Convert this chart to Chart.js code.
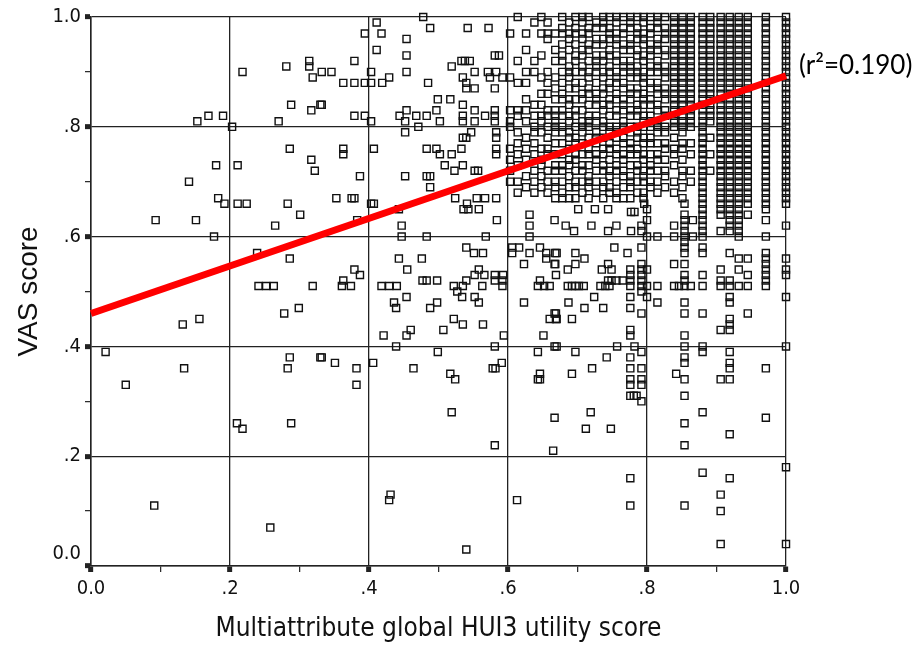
<!DOCTYPE html>
<html>
<head>
<meta charset="utf-8">
<script src="https://cdn.jsdelivr.net/npm/chart.js@4.4.1/dist/chart.umd.min.js"></script>
<style>
  html, body { margin: 0; padding: 0; background: #fff; }
  #wrap { width: 922px; height: 645px; }
</style>
</head>
<body>
<div id="wrap"><canvas id="myChart"></canvas></div>
<script>
// scattered respondents: [HUI3 utility, VAS score]
const sparsePoints = [
  [0.218, 0.90], [0.281, 0.91], [0.314, 0.92], [0.314, 0.91], [0.332, 0.90], [0.319, 0.89],
  [0.288, 0.84], [0.317, 0.83], [0.330, 0.84], [0.153, 0.81], [0.169, 0.82], [0.190, 0.82],
  [0.203, 0.80], [0.270, 0.81], [0.286, 0.76], [0.317, 0.74], [0.322, 0.72], [0.180, 0.73],
  [0.211, 0.73], [0.141, 0.70], [0.183, 0.67], [0.192, 0.66], [0.211, 0.66], [0.224, 0.66],
  [0.283, 0.66], [0.301, 0.64], [0.093, 0.63], [0.151, 0.63], [0.265, 0.62], [0.177, 0.60],
  [0.239, 0.57], [0.286, 0.56], [0.241, 0.51], [0.252, 0.51], [0.263, 0.51], [0.319, 0.51],
  [0.278, 0.46], [0.299, 0.47], [0.132, 0.44], [0.156, 0.45], [0.021, 0.39], [0.286, 0.38],
  [0.330, 0.38], [0.283, 0.36], [0.134, 0.36], [0.050, 0.33], [0.210, 0.26], [0.218, 0.25],
  [0.288, 0.26], [0.091, 0.11], [0.258, 0.07],
  [0.478, 1.00], [0.411, 0.99], [0.488, 0.98], [0.542, 0.98], [0.572, 0.98], [0.394, 0.97],
  [0.418, 0.97], [0.454, 0.96], [0.411, 0.94], [0.454, 0.93], [0.379, 0.92], [0.346, 0.90],
  [0.403, 0.90], [0.454, 0.90], [0.519, 0.91], [0.533, 0.92], [0.538, 0.92], [0.545, 0.92],
  [0.581, 0.93], [0.587, 0.93], [0.552, 0.90], [0.571, 0.90], [0.583, 0.90], [0.429, 0.89],
  [0.363, 0.88], [0.379, 0.88], [0.394, 0.88], [0.403, 0.88], [0.419, 0.88], [0.485, 0.88],
  [0.535, 0.89], [0.540, 0.88], [0.540, 0.87], [0.552, 0.87], [0.574, 0.89], [0.581, 0.87],
  [0.592, 0.89], [0.499, 0.85], [0.517, 0.85], [0.332, 0.84], [0.535, 0.84], [0.379, 0.82],
  [0.394, 0.82], [0.454, 0.83], [0.444, 0.82], [0.468, 0.82], [0.483, 0.82], [0.497, 0.83],
  [0.502, 0.81], [0.403, 0.81], [0.452, 0.81], [0.471, 0.80], [0.452, 0.79], [0.535, 0.82],
  [0.535, 0.81], [0.552, 0.83], [0.567, 0.82], [0.552, 0.81], [0.581, 0.83], [0.581, 0.82],
  [0.581, 0.81], [0.535, 0.78], [0.540, 0.78], [0.547, 0.79], [0.583, 0.79], [0.583, 0.78],
  [0.363, 0.76], [0.363, 0.75], [0.407, 0.76], [0.483, 0.76], [0.497, 0.76], [0.502, 0.75],
  [0.519, 0.75], [0.533, 0.76], [0.583, 0.76], [0.583, 0.75], [0.509, 0.73], [0.523, 0.72],
  [0.535, 0.73], [0.552, 0.72], [0.557, 0.72], [0.387, 0.71], [0.452, 0.71], [0.483, 0.71],
  [0.488, 0.71], [0.488, 0.69],
  [0.353, 0.67], [0.375, 0.67], [0.379, 0.67], [0.403, 0.66], [0.407, 0.66], [0.443, 0.65],
  [0.383, 0.63], [0.447, 0.62], [0.447, 0.60], [0.483, 0.60], [0.524, 0.67], [0.541, 0.66],
  [0.555, 0.67], [0.567, 0.67], [0.583, 0.67], [0.536, 0.65], [0.543, 0.65], [0.558, 0.65],
  [0.584, 0.63], [0.568, 0.60], [0.540, 0.58], [0.551, 0.57], [0.564, 0.57], [0.443, 0.56],
  [0.476, 0.56], [0.455, 0.54], [0.379, 0.54], [0.387, 0.53], [0.363, 0.52], [0.361, 0.51],
  [0.374, 0.51], [0.418, 0.51], [0.429, 0.51], [0.440, 0.51], [0.477, 0.52], [0.483, 0.52],
  [0.498, 0.52], [0.522, 0.51], [0.527, 0.50], [0.535, 0.51], [0.540, 0.52], [0.558, 0.54],
  [0.552, 0.53], [0.566, 0.53], [0.563, 0.51], [0.581, 0.53], [0.593, 0.53], [0.581, 0.52],
  [0.592, 0.52], [0.592, 0.51], [0.534, 0.49], [0.552, 0.49], [0.558, 0.48], [0.454, 0.49],
  [0.436, 0.48], [0.439, 0.47], [0.498, 0.48], [0.488, 0.47], [0.522, 0.45], [0.535, 0.44],
  [0.564, 0.44], [0.507, 0.43], [0.421, 0.42], [0.454, 0.42], [0.460, 0.43], [0.439, 0.40],
  [0.499, 0.39], [0.594, 0.42], [0.581, 0.40], [0.332, 0.38], [0.351, 0.37], [0.382, 0.36],
  [0.406, 0.37], [0.464, 0.36], [0.517, 0.35], [0.524, 0.34], [0.578, 0.36], [0.582, 0.36],
  [0.591, 0.37], [0.382, 0.33],
  [0.519, 0.28], [0.581, 0.22], [0.643, 0.34], [0.667, 0.27], [0.665, 0.21], [0.431, 0.13],
  [0.429, 0.12], [0.613, 0.12], [0.540, 0.03],
  [0.606, 0.58], [0.616, 0.58], [0.606, 0.57], [0.631, 0.64], [0.631, 0.62], [0.631, 0.60],
  [0.667, 0.63], [0.631, 0.57], [0.646, 0.58], [0.655, 0.57], [0.668, 0.57], [0.655, 0.56],
  [0.668, 0.55], [0.623, 0.55], [0.646, 0.52], [0.643, 0.51], [0.660, 0.51], [0.652, 0.51],
  [0.623, 0.48], [0.667, 0.46], [0.660, 0.45], [0.669, 0.45], [0.651, 0.42], [0.667, 0.40],
  [0.643, 0.39], [0.646, 0.35], [0.646, 0.34],
  [0.776, 0.33], [0.792, 0.33], [0.776, 0.31], [0.781, 0.31], [0.785, 0.31], [0.792, 0.30],
  [0.854, 0.31], [0.719, 0.28], [0.712, 0.25], [0.748, 0.25], [0.880, 0.28], [0.854, 0.26],
  [0.971, 0.27], [0.919, 0.24], [0.854, 0.22], [1.000, 0.18], [0.880, 0.17], [0.919, 0.16],
  [0.776, 0.16], [0.906, 0.13], [0.776, 0.11], [0.854, 0.11], [0.906, 0.10], [0.906, 0.04],
  [1.000, 0.04],
  [0.701, 0.65], [0.725, 0.65], [0.744, 0.65], [0.777, 0.645], [0.782, 0.645], [0.796, 0.66],
  [0.800, 0.65], [0.800, 0.63], [0.854, 0.66], [0.854, 0.64], [0.854, 0.63], [0.854, 0.62],
  [0.854, 0.61], [0.880, 0.66], [0.880, 0.65], [0.880, 0.64], [0.880, 0.63], [0.880, 0.62],
  [0.880, 0.61], [0.906, 0.66], [0.906, 0.65], [0.906, 0.64], [0.919, 0.66], [0.919, 0.65],
  [0.919, 0.64], [0.919, 0.63], [0.919, 0.62], [0.919, 0.61], [0.932, 0.66], [0.932, 0.65],
  [0.932, 0.64], [0.932, 0.63], [0.932, 0.62], [0.932, 0.61], [0.945, 0.66], [0.945, 0.64],
  [0.971, 0.66], [0.971, 0.65], [0.971, 0.63], [1.000, 0.66], [1.000, 0.62], [0.839, 0.62],
  [0.866, 0.63], [0.906, 0.61], [0.683, 0.62], [0.695, 0.61], [0.720, 0.62], [0.744, 0.61],
  [0.756, 0.62], [0.777, 0.61], [0.792, 0.62], [0.792, 0.61], [0.800, 0.60], [0.815, 0.60],
  [0.839, 0.60], [0.854, 0.60], [0.866, 0.60], [0.880, 0.60], [0.932, 0.60], [0.971, 0.60],
  [0.753, 0.58], [0.772, 0.57], [0.792, 0.58], [0.670, 0.57], [0.697, 0.57], [0.710, 0.56],
  [0.854, 0.59], [0.854, 0.58], [0.854, 0.57], [0.880, 0.58], [0.880, 0.57], [0.919, 0.57],
  [0.932, 0.56], [0.945, 0.56], [0.971, 0.57], [0.971, 0.56], [0.971, 0.55], [0.971, 0.54],
  [0.971, 0.53], [0.971, 0.52], [0.971, 0.51], [1.000, 0.56], [1.000, 0.54], [1.000, 0.53],
  [0.667, 0.55], [0.686, 0.54], [0.697, 0.55], [0.669, 0.53], [0.735, 0.54], [0.744, 0.55],
  [0.749, 0.54], [0.744, 0.52], [0.749, 0.52], [0.756, 0.52], [0.765, 0.52], [0.776, 0.54],
  [0.776, 0.53], [0.776, 0.52], [0.792, 0.55], [0.792, 0.54], [0.792, 0.53], [0.792, 0.52],
  [0.800, 0.54], [0.839, 0.55], [0.854, 0.55], [0.854, 0.53], [0.854, 0.52], [0.880, 0.53],
  [0.906, 0.54], [0.906, 0.52], [0.932, 0.54], [0.945, 0.53], [0.919, 0.52],
  [0.686, 0.51], [0.692, 0.51], [0.697, 0.51], [0.702, 0.51], [0.709, 0.51], [0.733, 0.51],
  [0.740, 0.51], [0.746, 0.51], [0.776, 0.51], [0.792, 0.51], [0.800, 0.51], [0.815, 0.51],
  [0.839, 0.51], [0.846, 0.51], [0.854, 0.51], [0.863, 0.51], [0.880, 0.51], [0.906, 0.51],
  [0.919, 0.51], [0.932, 0.51], [0.945, 0.51],
  [0.724, 0.49], [0.776, 0.49], [0.792, 0.50], [0.800, 0.49], [1.000, 0.49], [0.687, 0.48],
  [0.710, 0.47], [0.737, 0.47], [0.776, 0.47], [0.815, 0.48], [0.854, 0.48], [0.919, 0.49],
  [0.919, 0.48], [0.792, 0.46], [0.854, 0.46], [0.880, 0.46], [0.945, 0.46], [0.669, 0.46],
  [0.670, 0.45], [0.692, 0.45], [0.776, 0.43], [0.776, 0.42], [0.906, 0.43], [0.919, 0.45],
  [0.919, 0.44], [0.919, 0.43], [0.854, 0.42], [0.670, 0.40], [0.697, 0.39], [0.757, 0.40],
  [0.782, 0.40], [0.792, 0.39], [0.854, 0.40], [0.880, 0.40], [0.880, 0.39], [0.919, 0.39],
  [1.000, 0.40], [0.742, 0.38], [0.721, 0.36], [0.692, 0.35], [0.776, 0.38], [0.776, 0.36],
  [0.792, 0.36], [0.854, 0.38], [0.854, 0.37], [0.919, 0.37], [0.919, 0.36], [0.971, 0.36],
  [0.842, 0.35], [0.854, 0.34], [0.906, 0.34], [0.919, 0.34], [0.776, 0.34], [0.792, 0.34]
];

// dense upper-right block: HUI3 value of each stacked column and its VAS scores
const columnHui3 = [
  0.603, 0.614, 0.626, 0.638, 0.648, 0.657, 0.668, 0.678, 0.688, 0.697, 0.707, 0.716,
  0.727, 0.737, 0.746, 0.756, 0.766, 0.776, 0.786, 0.795, 0.805, 0.815, 0.826, 0.839,
  0.851, 0.863, 0.880, 0.891, 0.906, 0.919, 0.932, 0.945, 0.971, 1.000
];
const columnVas = [
  [0.97, 0.89, 0.83, 0.81, 0.80, 0.76, 0.74, 0.72, 0.70],
  [1.00, 0.92, 0.88, 0.83, 0.82, 0.79, 0.77, 0.75, 0.73, 0.70, 0.68],
  [0.97, 0.94, 0.90, 0.88, 0.85, 0.83, 0.81, 0.78, 0.76, 0.74, 0.71, 0.69],
  [0.99, 0.92, 0.90, 0.84, 0.82, 0.80, 0.79, 0.77, 0.75, 0.72, 0.70, 0.68],
  [1.00, 0.97, 0.93, 0.89, 0.86, 0.84, 0.82, 0.81, 0.79, 0.76, 0.74, 0.73, 0.71, 0.69],
  [0.99, 0.97, 0.96, 0.90, 0.88, 0.86, 0.83, 0.82, 0.80, 0.78, 0.76, 0.75, 0.72, 0.70, 0.68],
  [0.97, 0.94, 0.92, 0.89, 0.87, 0.85, 0.83, 0.82, 0.81, 0.80, 0.79, 0.77, 0.75, 0.73, 0.72, 0.70, 0.69, 0.67],
  [1.00, 0.98, 0.97, 0.95, 0.93, 0.92, 0.90, 0.88, 0.86, 0.85, 0.83, 0.82, 0.80, 0.79, 0.77, 0.75, 0.73, 0.72, 0.70, 0.68, 0.67],
  [0.99, 0.97, 0.96, 0.94, 0.91, 0.90, 0.89, 0.87, 0.85, 0.84, 0.82, 0.81, 0.79, 0.78, 0.76, 0.74, 0.73, 0.71, 0.69, 0.67],
  [1.00, 0.98, 0.97, 0.95, 0.93, 0.92, 0.90, 0.88, 0.87, 0.85, 0.83, 0.82, 0.80, 0.78, 0.77, 0.75, 0.74, 0.72, 0.70, 0.69, 0.67],
  [1.00, 0.99, 0.97, 0.96, 0.94, 0.93, 0.91, 0.90, 0.88, 0.86, 0.85, 0.83, 0.81, 0.80, 0.79, 0.77, 0.75, 0.73, 0.72, 0.70, 0.68],
  [1.00, 0.98, 0.97, 0.95, 0.94, 0.92, 0.90, 0.89, 0.87, 0.86, 0.84, 0.82, 0.81, 0.80, 0.78, 0.76, 0.75, 0.73, 0.71, 0.70, 0.69, 0.67],
  [0.99, 0.98, 0.96, 0.95, 0.93, 0.92, 0.91, 0.90, 0.88, 0.86, 0.85, 0.84, 0.82, 0.81, 0.79, 0.78, 0.77, 0.75, 0.74, 0.72, 0.70, 0.68],
  [1.00, 0.99, 0.98, 0.96, 0.95, 0.93, 0.92, 0.90, 0.89, 0.87, 0.86, 0.84, 0.83, 0.81, 0.80, 0.78, 0.76, 0.75, 0.73, 0.72, 0.70, 0.69, 0.67],
  [1.00, 0.98, 0.97, 0.96, 0.94, 0.93, 0.91, 0.90, 0.88, 0.87, 0.85, 0.84, 0.82, 0.80, 0.79, 0.77, 0.76, 0.74, 0.72, 0.71, 0.69, 0.68],
  [1.00, 0.99, 0.97, 0.96, 0.95, 0.93, 0.92, 0.90, 0.89, 0.88, 0.86, 0.85, 0.83, 0.82, 0.80, 0.79, 0.78, 0.76, 0.75, 0.73, 0.72, 0.70, 0.68, 0.67],
  [1.00, 0.98, 0.97, 0.95, 0.94, 0.92, 0.91, 0.90, 0.88, 0.87, 0.85, 0.84, 0.83, 0.81, 0.80, 0.78, 0.77, 0.75, 0.74, 0.72, 0.71, 0.69, 0.67],
  [1.00, 0.99, 0.98, 0.96, 0.95, 0.94, 0.92, 0.91, 0.90, 0.89, 0.87, 0.86, 0.85, 0.83, 0.82, 0.80, 0.79, 0.77, 0.76, 0.75, 0.73, 0.71, 0.70, 0.69, 0.67],
  [1.00, 0.98, 0.97, 0.96, 0.94, 0.93, 0.91, 0.90, 0.89, 0.87, 0.86, 0.84, 0.83, 0.82, 0.80, 0.79, 0.78, 0.76, 0.75, 0.73, 0.72, 0.70, 0.68],
  [1.00, 0.99, 0.97, 0.96, 0.95, 0.93, 0.92, 0.90, 0.89, 0.88, 0.86, 0.85, 0.84, 0.82, 0.81, 0.80, 0.78, 0.77, 0.75, 0.74, 0.72, 0.71, 0.70, 0.68, 0.67],
  [1.00, 0.98, 0.97, 0.95, 0.94, 0.93, 0.91, 0.90, 0.88, 0.87, 0.85, 0.84, 0.82, 0.81, 0.80, 0.78, 0.77, 0.75, 0.73, 0.72, 0.70, 0.69],
  [1.00, 0.99, 0.98, 0.96, 0.95, 0.94, 0.92, 0.91, 0.90, 0.88, 0.87, 0.86, 0.84, 0.83, 0.81, 0.80, 0.79, 0.77, 0.75, 0.74, 0.72, 0.70, 0.68],
  [1.00, 0.98, 0.97, 0.96, 0.94, 0.93, 0.91, 0.90, 0.89, 0.87, 0.86, 0.85, 0.83, 0.82, 0.80, 0.79, 0.77, 0.76, 0.74, 0.72, 0.71, 0.69],
  [1.00, 0.99, 0.98, 0.97, 0.96, 0.95, 0.94, 0.93, 0.92, 0.91, 0.90, 0.89, 0.88, 0.87, 0.86, 0.85, 0.84, 0.83, 0.82, 0.81, 0.80, 0.78, 0.76, 0.75, 0.73, 0.70, 0.68],
  [1.00, 0.99, 0.98, 0.97, 0.96, 0.95, 0.94, 0.93, 0.92, 0.91, 0.90, 0.89, 0.88, 0.87, 0.86, 0.85, 0.84, 0.83, 0.82, 0.81, 0.80, 0.79, 0.77, 0.76, 0.74, 0.72, 0.71, 0.69, 0.67],
  [1.00, 0.99, 0.98, 0.97, 0.96, 0.95, 0.94, 0.93, 0.92, 0.91, 0.90, 0.89, 0.88, 0.87, 0.86, 0.85, 0.84, 0.83, 0.82, 0.81, 0.80, 0.77, 0.75, 0.72, 0.70],
  [1.00, 0.99, 0.98, 0.97, 0.96, 0.95, 0.94, 0.93, 0.92, 0.91, 0.90, 0.89, 0.88, 0.87, 0.86, 0.85, 0.84, 0.83, 0.82, 0.81, 0.80, 0.79, 0.78, 0.77, 0.76, 0.75, 0.74, 0.73, 0.72, 0.71, 0.70, 0.69, 0.68, 0.67],
  [1.00, 0.99, 0.98, 0.97, 0.96, 0.95, 0.94, 0.93, 0.92, 0.91, 0.90, 0.89, 0.88, 0.87, 0.86, 0.85, 0.84, 0.83, 0.82, 0.81, 0.78, 0.75, 0.72],
  [1.00, 0.99, 0.98, 0.97, 0.96, 0.95, 0.94, 0.93, 0.92, 0.91, 0.90, 0.89, 0.88, 0.87, 0.86, 0.85, 0.84, 0.83, 0.82, 0.81, 0.80, 0.79, 0.78, 0.77, 0.76, 0.75, 0.74, 0.73, 0.72, 0.71, 0.70, 0.69, 0.68, 0.67],
  [1.00, 0.99, 0.98, 0.97, 0.96, 0.95, 0.94, 0.93, 0.92, 0.91, 0.90, 0.89, 0.88, 0.87, 0.86, 0.85, 0.84, 0.83, 0.82, 0.81, 0.80, 0.79, 0.78, 0.77, 0.76, 0.75, 0.74, 0.73, 0.72, 0.71, 0.70, 0.69, 0.68, 0.67],
  [1.00, 0.99, 0.98, 0.97, 0.96, 0.95, 0.94, 0.93, 0.92, 0.91, 0.90, 0.89, 0.88, 0.87, 0.86, 0.85, 0.84, 0.83, 0.82, 0.81, 0.80, 0.79, 0.78, 0.77, 0.76, 0.75, 0.74, 0.73, 0.72, 0.71, 0.70, 0.69, 0.68, 0.67],
  [1.00, 0.99, 0.98, 0.97, 0.96, 0.95, 0.94, 0.93, 0.92, 0.91, 0.90, 0.89, 0.88, 0.87, 0.86, 0.85, 0.84, 0.83, 0.82, 0.81, 0.80, 0.79, 0.78, 0.77, 0.76, 0.75, 0.74, 0.73, 0.72, 0.71, 0.70, 0.69, 0.68, 0.67],
  [1.00, 0.99, 0.98, 0.97, 0.96, 0.95, 0.94, 0.93, 0.92, 0.91, 0.90, 0.89, 0.88, 0.87, 0.86, 0.85, 0.84, 0.83, 0.82, 0.81, 0.80, 0.79, 0.78, 0.77, 0.76, 0.75, 0.74, 0.73, 0.72, 0.71, 0.70, 0.69, 0.68, 0.67],
  [1.00, 0.99, 0.98, 0.97, 0.96, 0.95, 0.94, 0.93, 0.92, 0.91, 0.90, 0.89, 0.88, 0.87, 0.86, 0.85, 0.84, 0.83, 0.82, 0.81, 0.80, 0.79, 0.78, 0.77, 0.76, 0.75, 0.74, 0.73, 0.72, 0.71, 0.70, 0.69, 0.68, 0.67]
];

// linear fit, end points at HUI3 = 0 and 1
const fitHui3 = [0, 1];
const fitVas = [0.46, 0.893];
const rSquaredLabel = '(r\u00B2=0.190)';

const tickValues = [0, 0.2, 0.4, 0.6, 0.8, 1.0];
const tickLabels = ['0.0', '.2', '.4', '.6', '.8', '1.0'];

const xTitle = 'Multiattribute global HUI3 utility score';
const yTitle = 'VAS score';

const scatterData = sparsePoints.map(p => ({ x: p[0], y: p[1] }));
columnHui3.forEach((hx, i) => {
  columnVas[i].forEach(v => scatterData.push({ x: hx, y: v }));
});
const fitData = fitHui3.map((hx, i) => ({ x: hx, y: fitVas[i] }));

const narrowFont = "'DejaVu Sans Condensed', 'Liberation Sans Narrow', 'Liberation Sans', sans-serif";
const lineColor = '#222';

function tenth(v) {
  return Math.round(v * 10);
}
function tickText(v, isX) {
  const idx = tickValues.findIndex(t => Math.abs(t - v) < 1e-6);
  if (idx < 0) return '';
  // the y "0.0" sits a little above the corner in the original
  if (!isX && idx === 0) return [tickLabels[idx], ''];
  return tickLabels[idx];
}
function isMajor(ctx) {
  return ctx.tick && tenth(ctx.tick.value) % 2 === 0;
}

function axisOptions(title, isX) {
  return {
    type: 'linear',
    min: 0,
    max: 1,
    afterFit: (scale) => {
      if (isX) scale.height = 79;
      else scale.width = 91;
    },
    ticks: {
      stepSize: 0.1,
      autoSkip: false,
      maxRotation: 0,
      color: '#111',
      padding: isX ? 5 : 4,
      font: { family: narrowFont, size: 20 },
      callback: (v) => tickText(v, isX),
    },
    grid: {
      color: (ctx) => (isMajor(ctx) ? lineColor : 'rgba(0,0,0,0)'),
      lineWidth: 1.3,
      tickColor: lineColor,
      tickLength: 6,
      tickWidth: (ctx) => (isMajor(ctx) ? 5 : 1.2),
    },
    border: { display: true, color: lineColor, width: 1.5 },
    title: {
      display: true,
      text: title,
      color: '#111',
      font: isX
        ? { family: narrowFont, size: 26 }
        : { family: "'Liberation Sans', Arial, sans-serif", size: 28 },
      padding: isX ? { top: 0, bottom: 0 } : { top: 12, bottom: 0 },
    },
  };
}

const rSquaredPlugin = {
  id: 'rSquared',
  afterDraw(chart) {
    const ctx = chart.ctx;
    ctx.save();
    ctx.fillStyle = '#000';
    ctx.font = "26px Lato, 'Open Sans', sans-serif";
    ctx.textBaseline = 'middle';
    ctx.textAlign = 'left';
    ctx.fillText(rSquaredLabel, 799, 66);
    ctx.restore();
  },
};

const config = {
  type: 'scatter',
  data: {
    datasets: [
      {
        label: 'fit',
        data: fitData,
        showLine: true,
        borderColor: '#ff0000',
        borderWidth: 7,
        borderCapStyle: 'butt',
        pointRadius: 0,
        order: 0,
        clip: false,
      },
      {
        label: 'respondents',
        data: scatterData,
        pointStyle: 'rect',
        pointRadius: 5,
        pointBorderWidth: 1.4,
        pointBorderColor: '#111',
        pointBackgroundColor: 'rgba(0,0,0,0)',
        order: 1,
        clip: false,
      },
    ],
  },
  options: {
    responsive: true,
    maintainAspectRatio: false,
    animation: false,
    layout: { padding: { top: 17, right: 136, bottom: 0, left: 0 } },
    plugins: {
      legend: { display: false },
      tooltip: { enabled: false },
    },
    scales: {
      x: axisOptions(xTitle, true),
      y: axisOptions(yTitle, false),
    },
  },
  plugins: [rSquaredPlugin],
};

const myChart = new Chart(document.getElementById('myChart'), config);
</script>
</body>
</html>
